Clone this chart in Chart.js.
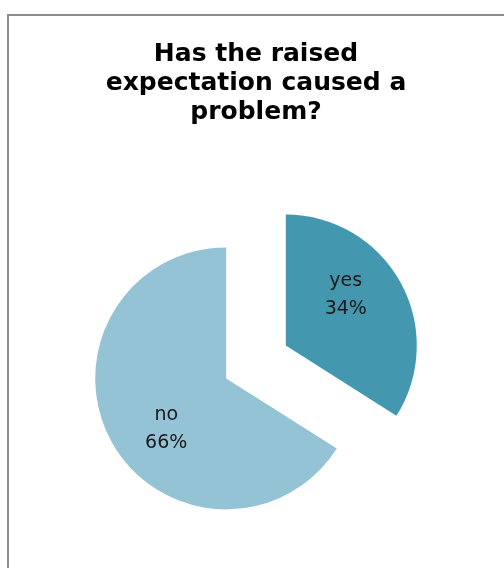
<!DOCTYPE html>
<html>
<head>
<meta charset="utf-8">
<script src="https://cdn.jsdelivr.net/npm/chart.js@4/dist/chart.umd.min.js"></script>
<style>
  html, body { margin: 0; padding: 0; background: #fff; overflow: hidden; }
  #wrap { position: relative; width: 504px; height: 568px; overflow: hidden; }
  #frame {
    position: absolute; left: 7px; top: 14px; width: 560px; height: 620px;
    border: 2px solid #8c8c8c; box-sizing: border-box;
  }
  #pieChart { position: absolute; left: 0; top: 0; }
</style>
</head>
<body>
<div id="wrap">
  <div id="frame"></div>
  <canvas id="pieChart" width="504" height="597"></canvas>
</div>
<script>
// answers and their shares (percent of respondents)
const answers = ["yes", "no"];
const shares = [34, 66];
const sliceColors = ["#4397ae", "#94c3d5"];
const titleLines = ["Has the raised", "expectation caused a", "problem?"];

// arc that slides out by its whole offset and keeps its radius
// (the stock arc only moves offset/4 and grows big slices)
class ExplodedArc extends Chart.ArcElement {
    static id = "explodedArc";
    draw(ctx) {
        const shift = this.options.offset || 0;
        const mid = (this.startAngle + this.endAngle) / 2;
        const flat = Object.create(this);
        flat.options = Object.assign({}, this.options, { offset: 0 });
        ctx.save();
        ctx.translate(Math.cos(mid) * shift, Math.sin(mid) * shift);
        super.draw.call(flat, ctx);
        ctx.restore();
    }
}

class ExplodedPieController extends Chart.PieController {
    static id = "explodedPie";
    static defaults = { dataElementType: "explodedArc" };
}

Chart.register(ExplodedArc, ExplodedPieController);

// writes "label / NN%" inside each slice
const sliceLabels = {
    id: "sliceLabels",
    afterDatasetsDraw(chart) {
        const ctx = chart.ctx;
        const meta = chart.getDatasetMeta(0);
        const total = shares.reduce((a, b) => a + b, 0);
        ctx.save();
        ctx.font = "19px 'DejaVu Sans'";
        ctx.fillStyle = "#1a1a1a";
        ctx.textAlign = "center";
        ctx.textBaseline = "middle";
        meta.data.forEach((arc, i) => {
            const p = arc.getProps(["x", "y", "startAngle", "endAngle", "outerRadius"], true);
            const off = arc.options.offset || 0;
            const mid = (p.startAngle + p.endAngle) / 2;
            const turn = mid - 0.2;
            const cx = p.x + Math.cos(mid) * off;
            const cy = p.y + Math.sin(mid) * off;
            const lx = cx + Math.cos(turn) * p.outerRadius * 0.6;
            const ly = cy + Math.sin(turn) * p.outerRadius * 0.6;
            const pct = Math.round(shares[i] / total * 100) + "%";
            ctx.fillText(answers[i], lx, ly - 14);
            ctx.fillText(pct, lx, ly + 14);
        });
        ctx.restore();
    }
};

let pieCanvas = document.getElementById("pieChart").getContext("2d");

new Chart(pieCanvas, {
    type: "explodedPie",
    data: {
        labels: answers,
        datasets: [{
            data: shares,
            backgroundColor: sliceColors,
            borderWidth: 0,
            offset: 34,
            radius: 131,
            clip: false,
        }, ],
    },
    options: {
        responsive: false,
        animation: false,
        layout: {
            padding: { left: 8, right: 0, top: 0, bottom: 0 },
        },
        plugins: {
            legend: { display: false },
            tooltip: { enabled: false },
            title: {
                display: true,
                text: titleLines,
                color: "#000",
                font: { family: "'DejaVu Sans'", size: 25, weight: "bold", lineHeight: 1.16 },
                padding: { top: 40, bottom: 0 },
            },
        },
    },
    plugins: [sliceLabels],
});
</script>
</body>
</html>
